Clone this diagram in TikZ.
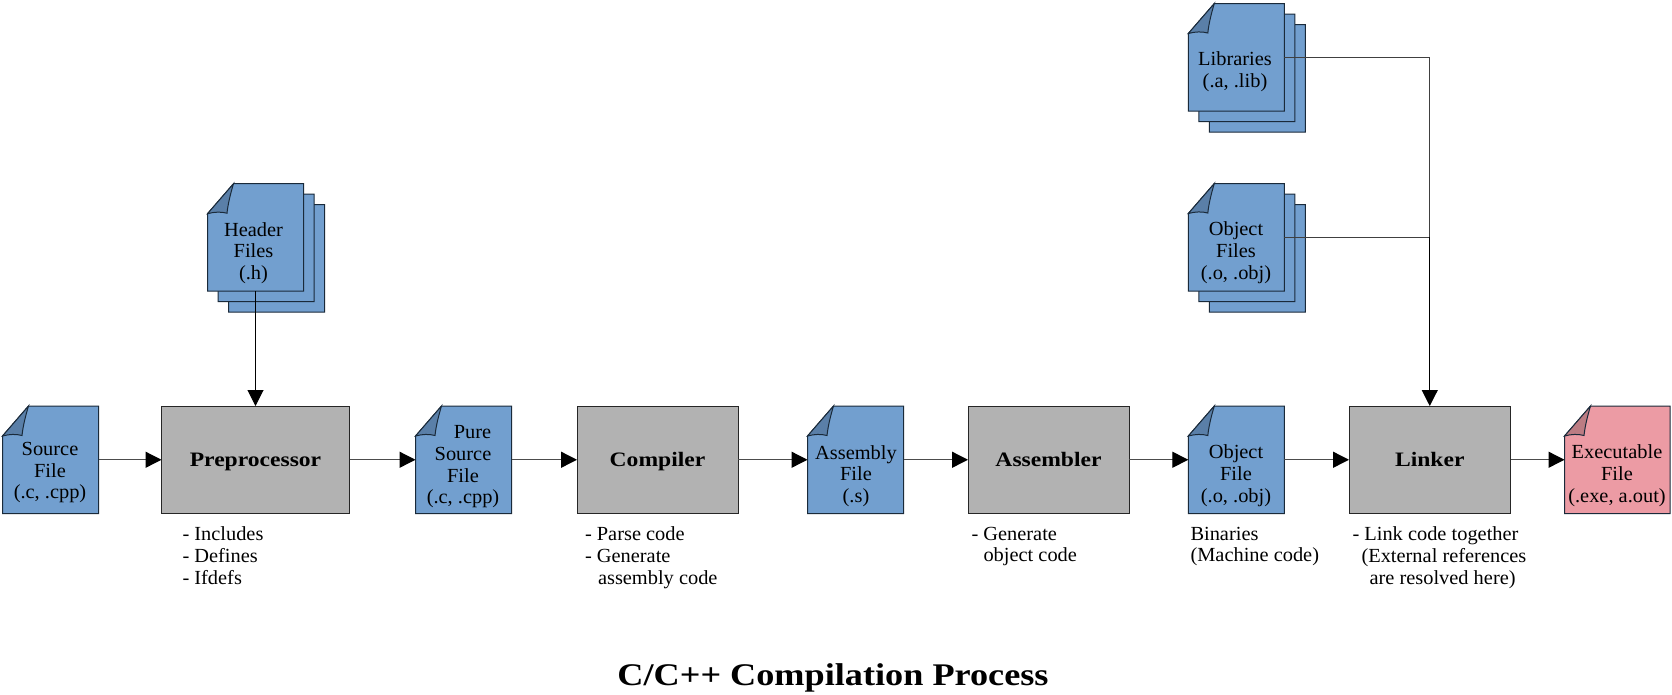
\documentclass[tikz,border=0pt]{standalone}
\usepackage{fontspec}
\setmainfont{Liberation Serif}[FakeStretch=1.02,BoldFeatures={FakeStretch=1.15}]
\usetikzlibrary{arrows.meta}
\definecolor{docblue}{HTML}{729FCF}
\definecolor{foldblue}{HTML}{5A7FA8}
\definecolor{docpink}{HTML}{EC9BA4}
\definecolor{foldpink}{HTML}{BC7C83}
\definecolor{procgray}{HTML}{B2B2B2}
\definecolor{edge}{HTML}{1A2A3A}
\tikzset{
  x=1pt,y=-1pt,
  every node/.style={font=\fontsize{20}{21.7}\selectfont,text=black,inner sep=0pt,outer sep=0pt},
  docpage/.style={draw=edge,line width=1pt,line join=miter},
  process/.style={draw=black!85,line width=1pt,fill=procgray,anchor=north west,minimum width=#1,minimum height=107.5pt,
    text height=16pt,text depth=2pt,font=\fontsize{20.5}{21.7}\selectfont\bfseries},
  doctext/.style={align=center,anchor=center},
  note/.style={align=left,anchor=north west},
  flow/.style={draw=black!70,line width=1.3pt,-{Triangle[length=16pt,width=16pt,color=black]}},
  vflow/.style={draw=black,line width=1pt,-{Triangle[length=16pt,width=16pt,color=black]}},
  graylink/.style={draw=black!75,line width=1.2pt},
}
% #1 name, #2 x, #3 y, #4 width, #5 fill, #6 fold fill
\newcommand{\docpage}[6]{%
  \fill[#5,docpage] (#2+26,#3) -- (#2+#4,#3) -- (#2+#4,#3+107.5) -- (#2,#3+107.5) -- (#2,#3+30) -- cycle;
  \fill[#6,docpage] (#2+26,#3) -- (#2,#3+30) .. controls (#2+7,#3+28) and (#2+14,#3+28) .. (#2+19.5,#3+29.5) .. controls (#2+20.5,#3+20) and (#2+23,#3+10) .. (#2+26,#3) -- cycle;
  \node[anchor=north west,minimum width=#4*1pt,minimum height=107.5pt] (#1) at (#2,#3) {};
}
\newcommand{\backpage}[2]{%
  \fill[docblue,docpage] (#1+26,#2) -- (#1+96,#2) -- (#1+96,#2+107.5) -- (#1,#2+107.5) -- (#1,#2+30) -- cycle;
}
\begin{document}
\begin{tikzpicture}
\useasboundingbox (0,0) rectangle (1672,694);
% Stacks
\backpage{228.5}{204.7}\backpage{218}{194.2}
\docpage{hdr}{207.5}{183.7}{96}{docblue}{foldblue}
\backpage{1209.3}{24.5}\backpage{1198.8}{14}
\docpage{lib}{1188.3}{3.5}{96}{docblue}{foldblue}
\backpage{1209.3}{204.5}\backpage{1198.8}{194}
\docpage{objs}{1188.3}{183.5}{96}{docblue}{foldblue}
% Single files
\docpage{src}{2.5}{406}{96}{docblue}{foldblue}
\docpage{pure}{415.5}{406}{96}{docblue}{foldblue}
\docpage{asmf}{807.5}{406}{96}{docblue}{foldblue}
\docpage{obj}{1188.3}{406}{96}{docblue}{foldblue}
\docpage{exe}{1564.5}{406}{105.5}{docpink}{foldpink}
% Processes
\node[process=188pt] (pre) at (161.5,406) {Preprocessor};
\node[process=161pt] (cmp) at (577,406) {Compiler};
\node[process=161pt] (asm) at (968,406) {Assembler};
\node[process=161.5pt] (lnk) at (1349,406) {Linker};
% File labels
\node[doctext] (hdrt) at (253.5,253) {Header\\Files\\(.h)};
\node[doctext] (libt) at (1235,71.5) {Libraries\\(.a, .lib)};
\node[doctext] (objst) at (1236,252.5) {Object\\Files\\(.o, .obj)};
\node[doctext] (srct) at (50,472.5) {Source\\File\\(.c, .cpp)};
\node[doctext] (puret) at (463,467) {\hspace*{19pt}Pure\\Source\\File\\(.c, .cpp)};
\node[doctext] (asmt) at (856,476) {Assembly\\File\\(.s)};
\node[doctext] (objt) at (1236,475.5) {Object\\File\\(.o, .obj)};
\node[doctext] (exet) at (1617,475.5) {Executable\\File\\(.exe, a.out)};
% Notes
\node[note] (n1) at (182.5,527) {- Includes\\- Defines\\- Ifdefs};
\node[note] (n2) at (585,527) {- Parse code\\- Generate\\\hspace*{13pt}assembly code};
\node[note] (n3) at (971.5,527) {- Generate\\\hspace*{12pt}object code};
\node[note] (n4) at (1190.5,527) {Binaries\\(Machine code)};
\node[note] (n5) at (1352.5,527) {- Link code together\\\hspace*{9pt}(External references\\\hspace*{17pt}are resolved here)};
\node[anchor=center,font=\fontsize{31.5}{34}\selectfont\bfseries] (title) at (833,678) {C/C++ Compilation Process};
% Connectors
\draw[flow] (src.east) -- (pre.west);
\draw[flow] (pre.east) -- (pure.west);
\draw[flow] (pure.east) -- (cmp.west);
\draw[flow] (cmp.east) -- (asmf.west);
\draw[flow] (asmf.east) -- (asm.west);
\draw[flow] (asm.east) -- (obj.west);
\draw[flow] (obj.east) -- (lnk.west);
\draw[flow] (lnk.east) -- (exe.west);
\coordinate (hs) at (hdr.south);
\draw[vflow] (hs) -- (hs |- pre.north);
\coordinate (libout) at (lib.east);
\coordinate (objout) at (objs.east);
\draw[graylink] (libout) -- (libout -| lnk.north);
\draw[graylink] (objout) -- (objout -| lnk.north);
\draw[graylink] (libout -| lnk.north) -- (objout -| lnk.north);
\draw[vflow] (objout -| lnk.north) -- (lnk.north);
\end{tikzpicture}
\end{document}
